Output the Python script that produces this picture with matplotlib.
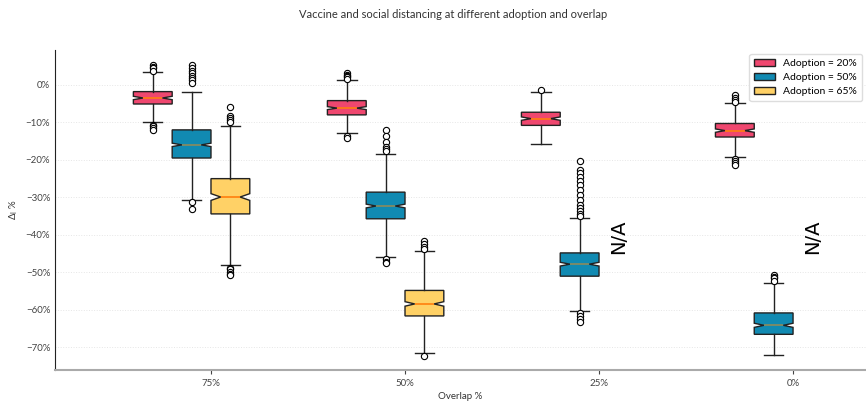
import matplotlib.pyplot as plt
from matplotlib.patches import Patch
from matplotlib.ticker import PercentFormatter

plt.rcParams['font.family'] = ['Lato', 'DejaVu Sans']
plt.rcParams['mathtext.default'] = 'regular'

overlaps = ['75%', '50%', '25%', '0%']
adoptions = ['Adoption = 20%', 'Adoption = 50%', 'Adoption = 65%']
colors = ['#EF476F', '#118AB2', '#FFD166']
median_colors = ['#ff7f0e', '#8c8a5c', '#ff7f0e']

# box stats, one value per overlap (None = N/A)
med_20 = [-3.5, -6.2, -9.0, -12.2]
q1_20 = [-5.1, -8.0, -10.8, -13.9]
q3_20 = [-1.8, -4.2, -7.3, -10.3]
lo_20 = [-9.9, -12.9, -15.7, -19.2]
hi_20 = [3.4, 1.3, -1.8, -4.9]
ci_20 = [0.45, 0.4, 0.45, 0.45]
fl_20 = [[5.3, 4.8, 4.5, 3.7, -10.6, -11.0, -11.4, -12.0],
         [3.1, 2.7, 2.4, 2.1, 1.6, -13.6, -14.1],
         [-1.5],
         [-2.8, -3.5, -4.0, -4.5, -19.7, -20.2, -20.8, -21.3]]

med_50 = [-16.0, -32.3, -47.8, -64.1]
q1_50 = [-19.5, -35.7, -51.0, -66.5]
q3_50 = [-12.0, -28.6, -44.8, -60.8]
lo_50 = [-30.6, -46.0, -60.3, -72.1]
hi_50 = [-1.8, -18.4, -35.5, -52.8]
ci_50 = [0.45, 0.5, 0.5, 0.55]
fl_50 = [[5.3, 4.5, 3.7, 3.2, 2.4, 1.9, 1.3, 0.5, -31.1, -33.1],
         [-12.0, -13.6, -15.2, -16.5, -17.0, -17.6, -46.3, -47.1, -47.6],
         [-20.4, -22.6, -23.5, -24.5, -25.5, -26.6, -28.0, -29.3, -30.6,
          -31.9, -32.7, -33.5, -34.3, -34.9, -60.7, -61.5, -62.3, -63.1],
         [-50.6, -51.1, -51.6, -52.2]]

med_65 = [-29.9, -58.4, None, None]
q1_65 = [-34.4, -61.6, None, None]
q3_65 = [-25.0, -54.8, None, None]
lo_65 = [-47.9, -71.5, None, None]
hi_65 = [-11.1, -44.4, None, None]
ci_65 = [0.9, 0.6, None, None]
fl_65 = [[-5.8, -8.3, -8.8, -9.3, -9.8, -48.7, -49.2, -49.8, -50.3, -50.8],
         [-41.7, -42.3, -43.1, -43.7, -72.3],
         [], []]

series = [
    (med_20, q1_20, q3_20, lo_20, hi_20, ci_20, fl_20),
    (med_50, q1_50, q3_50, lo_50, hi_50, ci_50, fl_50),
    (med_65, q1_65, q3_65, lo_65, hi_65, ci_65, fl_65),
]
offsets = [-0.3, -0.1, 0.1]

fig = plt.figure(figsize=(8.66, 4.03), dpi=100)
ax = fig.add_axes([0.0635, 0.082, 0.9365, 0.794])

for k, (med, q1, q3, lo, hi, ci, fl) in enumerate(series):
    stats = []
    pos = []
    for i in range(len(overlaps)):
        if med[i] is None:
            ax.text(i + offsets[k], -40.5, 'N/A', rotation=90, fontsize=14,
                    family='DejaVu Sans', ha='center', va='center')
            continue
        stats.append(dict(med=med[i], q1=q1[i], q3=q3[i], whislo=lo[i],
                          whishi=hi[i], cilo=med[i] - ci[i],
                          cihi=med[i] + ci[i], fliers=fl[i]))
        pos.append(i + offsets[k])
    ax.bxp(stats, positions=pos, widths=0.2, shownotches=True,
           patch_artist=True, manage_ticks=False,
           boxprops=dict(facecolor=colors[k], edgecolor='#222222', linewidth=1),
           medianprops=dict(color=median_colors[k], linewidth=1.2),
           whiskerprops=dict(color='#222222', linewidth=1),
           capprops=dict(color='#222222', linewidth=1),
           flierprops=dict(marker='o', markersize=4.5, markerfacecolor='white',
                           markeredgecolor='black', markeredgewidth=0.8))

ax.set_xticks(range(len(overlaps)))
ax.set_xticklabels(overlaps)
ax.set_xlim(-0.804, 3.376)
ax.set_ylim(-76, 9.3)
ax.set_yticks(range(-70, 1, 10))
ax.yaxis.set_major_formatter(PercentFormatter(decimals=0))
ax.tick_params(axis='y', length=0, labelsize=7, colors='#444444')
ax.tick_params(axis='x', length=3, labelsize=7, colors='#444444')
ax.yaxis.grid(True, color='#e6e6e6', linestyle=':', linewidth=0.7)
ax.set_axisbelow(True)
ax.spines['top'].set_visible(False)
ax.spines['right'].set_visible(False)
ax.spines['bottom'].set_color('#aaaaaa')
ax.spines['bottom'].set_linewidth(1.5)
ax.spines['left'].set_color('#222222')

ax.set_xlabel('Overlap %', fontsize=7, color='#333333', labelpad=3)
ax.set_ylabel(r'$\Delta_I$ %', fontsize=7, color='#333333')

handles = [Patch(facecolor=c, edgecolor='#222222', label=l)
           for c, l in zip(colors, adoptions)]
ax.legend(handles=handles, loc='upper right', fontsize=7.5, framealpha=1,
          edgecolor='#dddddd', borderaxespad=0.4, handlelength=2.0,
          handletextpad=0.8, borderpad=0.45, labelspacing=0.45)

fig.text(453 / 866, 1 - 14 / 403,
         'Vaccine and social distancing at different adoption and overlap',
         ha='center', va='center', fontsize=8, color='#333333')

fig.savefig('out.png', dpi=100)
